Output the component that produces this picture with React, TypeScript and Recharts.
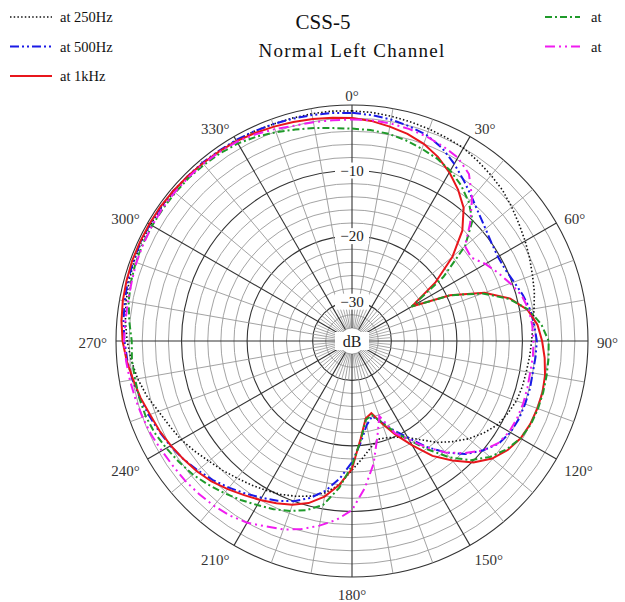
import React from 'react'
import { RadarChart, Radar, PolarGrid, PolarAngleAxis, PolarRadiusAxis } from 'recharts'

// angle in degrees, 0 = front, clockwise
const angles = [
  0, 5, 10, 15, 20, 25, 30, 35, 40, 45, 50, 55,
  60, 65, 70, 75, 80, 85, 90, 95, 100, 105, 110, 115,
  120, 125, 130, 135, 140, 145, 150, 155, 160, 165, 170, 175,
  180, 185, 190, 195, 200, 205, 210, 215, 220, 225, 230, 235,
  240, 245, 250, 255, 260, 265, 270, 275, 280, 285, 290, 295,
  300, 305, 310, 315, 320, 325, 330, 335, 340, 345, 350, 355,
]

const at250Hz = [
  -0.9, -1.0, -1.2, -1.4, -1.6, -1.8, -2.0, -2.5, -3.0, -3.5, -4.2, -4.9,
  -5.5, -6.1, -6.7, -7.2, -7.8, -8.3, -8.6, -8.8, -9.0, -9.1, -9.3, -9.8,
  -10.4, -11.5, -12.8, -14.3, -15.8, -17.6, -19.0, -19.8, -20.3, -20.5, -19.5, -18.0,
  -16.3, -14.0, -12.5, -11.5, -10.8, -10.2, -9.7, -9.2, -8.7, -8.1, -7.5, -6.7,
  -5.9, -5.3, -4.6, -3.6, -2.8, -2.2, -1.7, -1.3, -1.0, -0.8, -0.6, -0.5,
  -0.5, -0.5, -0.5, -0.5, -0.6, -0.6, -0.7, -0.7, -0.8, -0.8, -0.8, -0.8,
]

const at500Hz = [
  -1.2, -1.4, -1.7, -2.1, -2.6, -3.5, -4.8, -6.2, -7.5, -8.6, -9.4, -10.0,
  -10.3, -10.2, -9.7, -9.0, -8.4, -8.1, -7.8, -7.9, -8.0, -7.9, -7.9, -7.9,
  -8.1, -8.7, -10.0, -11.6, -13.8, -16.3, -19.0, -21.0, -22.8, -24.1, -23.0, -20.5,
  -17.5, -15.0, -12.8, -11.2, -10.0, -9.1, -8.4, -7.6, -6.8, -6.0, -5.3, -4.6,
  -4.0, -3.5, -3.0, -2.5, -2.0, -1.6, -1.3, -1.0, -0.8, -0.6, -0.5, -0.4,
  -0.4, -0.4, -0.4, -0.5, -0.5, -0.6, -0.6, -0.7, -0.8, -0.9, -1.0, -1.1,
]

const at1kHz = [
  -2.0, -2.3, -2.8, -3.3, -4.0, -5.0, -6.3, -7.8, -9.5, -12.2, -16.0, -20.5,
  -25.5, -19.5, -14.5, -11.0, -8.8, -7.6, -7.0, -6.5, -6.1, -5.9, -5.9, -6.0,
  -6.3, -7.0, -8.1, -9.8, -12.2, -14.6, -17.6, -20.2, -22.6, -24.6, -24.0, -21.0,
  -16.5, -14.0, -11.9, -10.4, -9.4, -8.7, -8.0, -7.3, -6.5, -5.7, -5.1, -4.6,
  -4.1, -3.6, -3.2, -2.6, -2.1, -1.5, -1.0, -0.7, -0.5, -0.4, -0.3, -0.3,
  -0.3, -0.3, -0.4, -0.5, -0.6, -0.7, -0.8, -1.0, -1.2, -1.4, -1.6, -1.8,
]

const atGreen = [
  -3.6, -3.7, -3.9, -4.3, -4.8, -5.3, -6.0, -7.0, -8.3, -10.0, -13.5, -19.0,
  -25.5, -19.5, -14.8, -11.2, -8.6, -7.0, -6.0, -5.9, -5.85, -5.8, -5.8, -5.9,
  -6.3, -7.2, -8.5, -10.3, -12.8, -15.8, -18.5, -20.8, -22.8, -24.3, -23.8, -20.8,
  -17.0, -13.5, -10.6, -9.3, -8.4, -7.7, -7.1, -6.4, -5.7, -5.0, -4.3, -3.8,
  -3.3, -2.8, -2.5, -2.4, -2.4, -2.3, -2.4, -1.9, -1.4, -1.1, -0.9, -0.8,
  -0.8, -0.8, -0.8, -0.8, -0.9, -1.0, -1.2, -1.6, -2.1, -2.6, -3.0, -3.4,
]

const atMagenta = [
  -2.2, -2.2, -2.3, -2.5, -2.8, -3.2, -3.7, -4.9, -7.5, -10.5, -13.5, -13.8,
  -12.5, -11.4, -10.3, -9.2, -8.6, -8.4, -8.3, -8.3, -8.4, -8.3, -8.2, -8.2,
  -8.3, -8.8, -10.0, -11.8, -13.8, -16.2, -18.6, -20.5, -23.8, -21.0, -17.0, -13.5,
  -10.2, -8.6, -7.4, -6.3, -5.4, -4.8, -4.0, -3.5, -3.2, -3.0, -2.8, -2.7,
  -2.5, -2.2, -2.0, -1.8, -1.6, -1.4, -1.2, -1.3, -1.3, -1.2, -1.0, -0.9,
  -0.8, -0.7, -0.7, -0.7, -0.7, -0.8, -0.9, -1.2, -1.6, -2.0, -2.1, -2.2,
]

const dbLabels = [-10, -20, -30]
const dbCircles = [-34, -32, -30, -28, -26, -24, -22, -20, -18, -16, -14, -12, -10, -8, -6, -4, -2, 0]

const data = angles.map((a, i) => ({
  angle: a,
  f250: at250Hz[i],
  f500: at500Hz[i],
  f1k: at1kHz[i],
  fg: atGreen[i],
  fm: atMagenta[i],
}))

const series = [
  { key: 'f250', name: 'at 250Hz', color: '#111111', dash: '1.5 2.2', width: 1.6 },
  { key: 'f500', name: 'at 500Hz', color: '#1a1ae6', dash: '9 3 2 3 2 3', width: 2 },
  { key: 'f1k', name: 'at 1kHz', color: '#e8161c', dash: undefined, width: 2 },
  { key: 'fg', name: 'at', color: '#1f9a2a', dash: '7 3 2 3', width: 2 },
  { key: 'fm', name: 'at', color: '#f01cf0', dash: '10 4 2 4 2 4', width: 2 },
]

const W = 625
const H = 602
const CX = 352
const CY = 341
const R = 236
const MIN_DB = -36
const SERIF = { fontFamily: 'Liberation Serif, Times New Roman, serif' }

const rOf = (db: number) => (R * (db - MIN_DB)) / -MIN_DB
const pt = (r: number, deg: number) => ({
  x: CX + r * Math.sin((deg * Math.PI) / 180),
  y: CY - r * Math.cos((deg * Math.PI) / 180),
})

function Spokes() {
  const r0 = rOf(-34)
  const r1 = rOf(-30)
  const fine = angles.filter((a) => a % 10 !== 0)
  const tens = angles.filter((a) => a % 10 === 0)
  return (
    <g>
      {fine.map((a) => {
        const p = pt(r0, a)
        const q = pt(r1, a)
        return <line key={'f' + a} x1={p.x} y1={p.y} x2={q.x} y2={q.y} stroke="#999" strokeWidth={0.8} />
      })}
      {tens.map((a) => {
        const p = pt(r0, a)
        const q = pt(R, a)
        const major = a % 30 === 0
        return (
          <line
            key={'s' + a}
            x1={p.x}
            y1={p.y}
            x2={q.x}
            y2={q.y}
            stroke={major ? '#333' : '#999'}
            strokeWidth={major ? 1.1 : 0.9}
          />
        )
      })}
    </g>
  )
}

function DbLabels() {
  return (
    <g fill="#222">
      {dbLabels.map((v) => {
        const y = CY - rOf(v)
        return (
          <g key={v}>
            <rect x={CX - 17} y={y - 8} width={34} height={16} fill="#fff" />
            <text x={CX} y={y} textAnchor="middle" dominantBaseline="central" fontSize={15} style={SERIF}>
              {'\u2212' + Math.abs(v)}
            </text>
          </g>
        )
      })}
      <rect x={CX - 17} y={CY - 9} width={34} height={18} fill="#fff" />
      <text x={CX} y={CY} textAnchor="middle" dominantBaseline="central" fontSize={16} style={SERIF}>
        dB
      </text>
    </g>
  )
}

function AngleTick(props: any) {
  const { x, y, payload } = props
  const v = Number(payload.value)
  if (v % 30 !== 0) return null
  const dx = x - CX
  const dy = y - CY
  const len = Math.sqrt(dx * dx + dy * dy) || 1
  const ux = dx / len
  const uy = dy / len
  const anchor = ux > 0.2 ? 'start' : ux < -0.2 ? 'end' : 'middle'
  const shift = uy > 0.95 ? 9 : uy > 0.1 ? 7 : uy > -0.1 ? 2 : 0
  return (
    <text
      x={x + ux}
      y={y + uy + shift}
      textAnchor={anchor}
      dominantBaseline="central"
      style={SERIF}
      fontSize={15}
      fill="#333"
    >
      {v + '\u00b0'}
    </text>
  )
}

function LegendAndTitle() {
  const left = series.slice(0, 3)
  const right = series.slice(3)
  return (
    <g fill="#111">
      {left.map((s, i) => (
        <g key={s.key}>
          <line x1={10} x2={52} y1={17 + i * 29.5} y2={17 + i * 29.5} stroke={s.color} strokeWidth={s.width} strokeDasharray={s.dash} />
          <text x={60} y={17 + i * 29.5} dominantBaseline="central" fontSize={14.5} style={SERIF}>
            {s.name}
          </text>
        </g>
      ))}
      {right.map((s, i) => (
        <g key={s.key}>
          <line x1={545} x2={580} y1={17 + i * 29.5} y2={17 + i * 29.5} stroke={s.color} strokeWidth={s.width} strokeDasharray={s.dash} />
          <text x={591} y={17 + i * 29.5} dominantBaseline="central" fontSize={14.5} style={SERIF}>
            {s.name}
          </text>
        </g>
      ))}
      <text x={323} y={22} textAnchor="middle" dominantBaseline="central" fontSize={21} style={SERIF}>
        CSS-5
      </text>
      <text x={CX} y={50} textAnchor="middle" dominantBaseline="central" fontSize={19} letterSpacing={1.3} style={SERIF}>
        Normal Left Channel
      </text>
    </g>
  )
}

export default function App() {
  const minor = dbCircles.filter((d) => d % 10 !== 0).map(rOf)
  const major = dbCircles.filter((d) => d % 10 === 0).map(rOf)
  return (
    <div style={{ position: 'absolute', left: 0, top: 0, width: W, height: H, background: '#fff' }}>
      <RadarChart
        width={W}
        height={H}
        data={data}
        cx={CX}
        cy={CY}
        outerRadius={R}
        startAngle={90}
        endAngle={-270}
        margin={{ top: 0, right: 0, bottom: 0, left: 0 }}
      >
        <PolarGrid gridType="circle" radialLines={false} polarRadius={minor} stroke="#999" strokeWidth={0.9} />
        <Spokes />
        <PolarGrid gridType="circle" radialLines={false} polarRadius={major} stroke="#333" strokeWidth={1.1} />
        <PolarAngleAxis dataKey="angle" tick={<AngleTick />} tickLine={false} axisLine={false} />
        <PolarRadiusAxis type="number" domain={[MIN_DB, 0]} allowDataOverflow tick={false} axisLine={false} />
        <DbLabels />
        {series.map((s) => (
          <Radar
            key={s.key}
            dataKey={s.key}
            name={s.name}
            stroke={s.color}
            strokeWidth={s.width}
            strokeDasharray={s.dash}
            fill="none"
            fillOpacity={0}
            dot={false}
            isAnimationActive={false}
          />
        ))}
        <LegendAndTitle />
      </RadarChart>
    </div>
  )
}
